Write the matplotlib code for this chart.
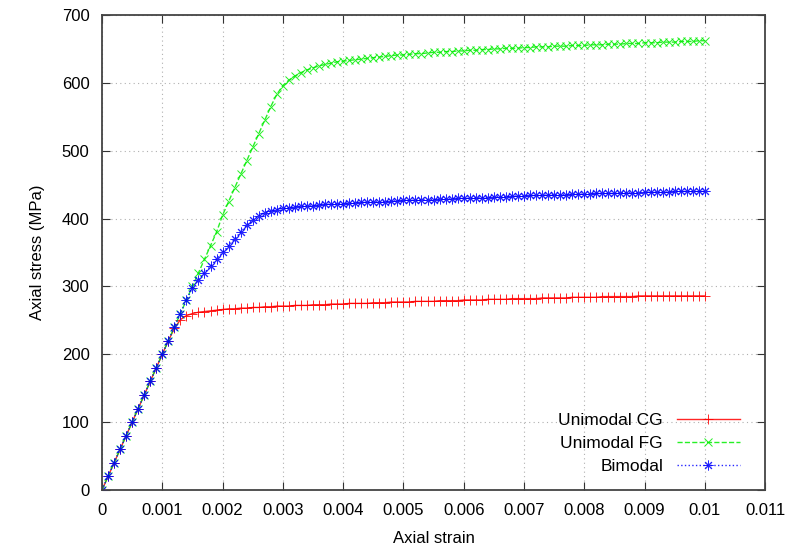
import numpy as np
import matplotlib.pyplot as plt

plt.rcParams['font.family'] = ['Liberation Sans', 'DejaVu Sans']

# axial strain grid, 0 .. 0.01
strain = np.linspace(0, 0.01, 101)

# stress values (MPa)
cg = [0, 20, 40, 60, 80, 100, 120, 140, 160, 180,
      200, 220, 238, 251, 257, 260, 262, 263, 264, 265,
      266, 267, 267, 268, 268, 269, 269, 270, 270, 271,
      271, 271, 272, 272, 272, 273, 273, 273, 274, 274,
      274, 275, 275, 275, 275, 276, 276, 276, 277, 277,
      277, 277, 278, 278, 278, 278, 279, 279, 279, 279,
      280, 280, 280, 280, 281, 281, 281, 281, 282, 282,
      282, 282, 282, 283, 283, 283, 283, 283, 284, 284,
      284, 284, 284, 285, 285, 285, 285, 285, 285, 286,
      286, 286, 286, 286, 286, 286, 286, 286, 286, 286, 286]

fg = [0, 20, 40, 60, 80, 100, 120, 140, 160, 180,
      200, 220, 240, 260, 280, 300, 320, 340, 360, 380,
      405, 425, 445, 465, 485, 505, 525, 545, 565, 583,
      596, 604, 610, 615, 619, 622, 625, 627, 629, 631,
      632, 633, 634, 635, 636, 637, 638, 639, 640, 641,
      641, 642, 643, 643, 644, 645, 645, 646, 646, 647,
      647, 648, 648, 649, 649, 650, 650, 651, 651, 651,
      652, 652, 653, 653, 653, 654, 654, 654, 655, 655,
      655, 656, 656, 656, 657, 657, 657, 658, 658, 658,
      659, 659, 659, 660, 660, 660, 661, 661, 661, 662, 662]

bimodal = [0, 20, 40, 60, 80, 100, 120, 140, 160, 180,
           200, 220, 240, 260, 280, 298, 310, 320, 330, 340,
           350, 360, 370, 380, 390, 398, 404, 408, 411, 413,
           415, 416, 417, 418, 419, 419, 420, 421, 421, 422,
           422, 423, 423, 424, 424, 425, 425, 425, 426, 426,
           427, 427, 427, 428, 428, 428, 429, 429, 429, 430,
           430, 430, 431, 431, 431, 432, 432, 432, 433, 433,
           433, 434, 434, 434, 435, 435, 435, 435, 436, 436,
           436, 436, 437, 437, 437, 437, 438, 438, 438, 438,
           439, 439, 439, 439, 439, 440, 440, 440, 440, 440, 440]

fig = plt.figure(figsize=(7.92, 5.54), dpi=100)
ax = fig.add_axes([0.1288, 0.1155, 0.8372, 0.8575])

asterisk = (8, 2, 0)
ax.plot(strain, cg, color='#ff0000', ls='-', lw=1, marker='+', ms=7, mew=0.7,
        alpha=0.85, label='Unimodal CG')
ax.plot(strain, fg, color='#00ee00', ls='--', lw=1, marker='x', ms=5.5, mew=0.7,
        alpha=0.85, label='Unimodal FG')
ax.plot(strain, bimodal, color='#0000ff', ls=':', lw=1, marker=asterisk, ms=7,
        mew=0.7, alpha=0.85, label='Bimodal')

ax.set_xlim(0, 0.011)
ax.set_ylim(0, 700)
ax.set_xticks(np.arange(0, 0.0111, 0.001))
ax.set_xticklabels(['0', '0.001', '0.002', '0.003', '0.004', '0.005', '0.006',
                    '0.007', '0.008', '0.009', '0.01', '0.011'])
ax.set_yticks(np.arange(0, 701, 100))

ax.grid(True, color='#b0b0b0', ls=(0, (1, 3)), lw=0.8)
ax.tick_params(direction='in', top=True, right=True, length=6, labelsize=12,
               pad=9, color='#333333')
for s in ax.spines.values():
    s.set_color('#444444')
    s.set_linewidth(1.3)

ax.set_xlabel('Axial strain', fontsize=12, labelpad=10)
ax.set_ylabel('Axial stress (MPa)', fontsize=12, labelpad=12)

ax.legend(loc='lower right', frameon=False, markerfirst=False, fontsize=12.5,
          handlelength=3.6, bbox_to_anchor=(0.985, 0.0), labelspacing=0.45)

fig.savefig('out.png', dpi=100)
